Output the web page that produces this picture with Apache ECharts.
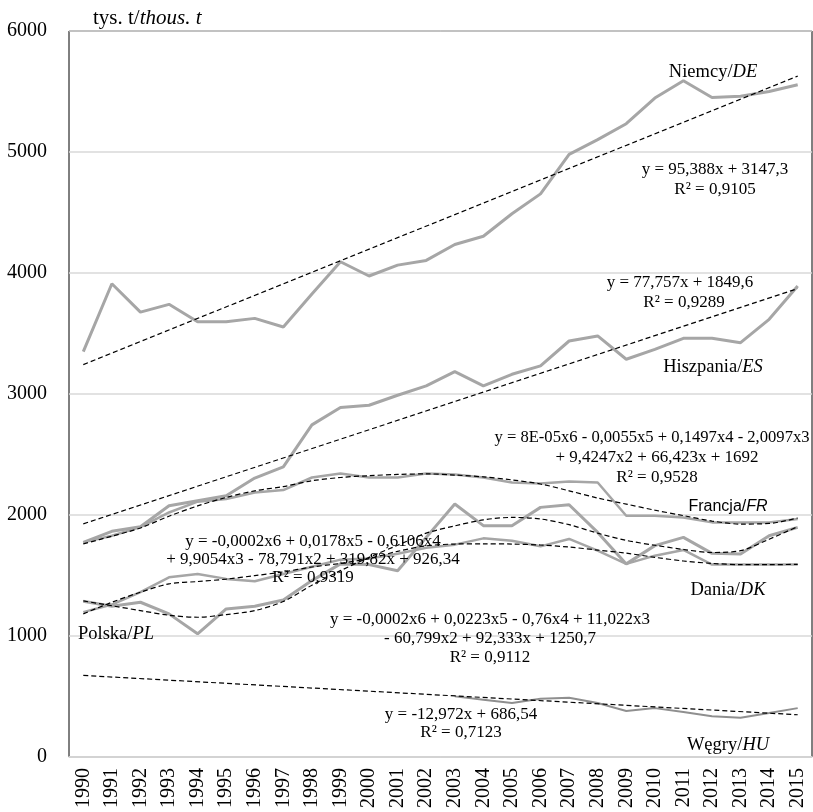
<!DOCTYPE html>
<html>
<head>
<meta charset="utf-8">
<script src="https://cdn.jsdelivr.net/npm/echarts@6/dist/echarts.min.js"></script>
<style>
  html, body { margin: 0; padding: 0; background: #fff; }
  #main { width: 813px; height: 812px; }
</style>
</head>
<body>
<div id="main"></div>
<script>
const lata = ['1990','1991','1992','1993','1994','1995','1996','1997','1998','1999','2000','2001','2002',
  '2003','2004','2005','2006','2007','2008','2009','2010','2011','2012','2013','2014','2015'];

const niemcy = [3350,3911,3677,3741,3597,3597,3625,3554,3826,4093,3975,4065,4104,4236,4304,4490,4654,4980,5102,5234,5446,5589,5450,5460,5500,5556];
const hiszpania = [1774,1865,1903,2077,2118,2159,2305,2398,2745,2888,2907,2990,3067,3185,3067,3163,3232,3438,3480,3287,3369,3460,3460,3424,3617,3892];
const francja = [1774,1829,1900,2021,2110,2132,2186,2206,2310,2343,2310,2310,2343,2335,2310,2269,2260,2277,2269,1994,1994,1980,1939,1939,1939,1967];
const polska = [1287,1246,1279,1183,1018,1224,1246,1298,1458,1596,1590,1540,1815,2091,1912,1912,2063,2085,1856,1596,1747,1815,1683,1678,1829,1898];
const dania = [1197,1260,1362,1485,1513,1472,1452,1513,1573,1631,1640,1680,1730,1755,1807,1788,1741,1802,1705,1596,1664,1711,1590,1590,1590,1590];
const wegry = [null,null,null,null,null,null,null,null,null,null,null,null,null,501,474,446,482,490,446,380,404,371,336,325,363,404];

// linie trendu
const trendDE = [['1990', 3243], ['2015', 5627]];
const trendES = [['1990', 1927], ['2015', 3871]];
const trendHU = [['1990', 674], ['2015', 349]];
const trendFR = [1761,1825,1893,1990,2075,2145,2200,2235,2283,2310,2325,2335,2340,2330,2315,2290,2256,2200,2140,2090,2040,1995,1950,1925,1930,1975];
const trendDK = [1183,1279,1362,1431,1450,1470,1499,1530,1570,1600,1640,1700,1745,1760,1762,1760,1752,1735,1710,1685,1650,1620,1600,1590,1590,1592];
const trendPL = [1290,1250,1210,1172,1155,1177,1210,1285,1420,1540,1650,1750,1850,1910,1960,1980,1967,1920,1850,1790,1750,1715,1690,1705,1800,1904];

const serif = 'Liberation Serif, Times New Roman, serif';
const szary = '#a6a6a6';

function linia(name, data, w, kolor) {
  return { name, type: 'line', data, symbol: 'none', z: 2,
    lineStyle: { color: kolor || szary, width: w }, emphasis: { disabled: true } };
}
function trend(name, data, smooth) {
  return { name, type: 'line', data, symbol: 'none', z: 3, smooth: smooth ? 0.3 : false, connectNulls: true,
    lineStyle: { color: '#000', width: 1.2, type: [5, 3] }, emphasis: { disabled: true } };
}
function napis(x, y, tekst, size, rich) {
  return { type: 'text', x, y, z: 10, style: {
    text: tekst, fill: '#000', font: size + 'px ' + serif, align: 'center', verticalAlign: 'middle',
    rich: rich || {} } };
}
const kursywa = s => ({ a: { font: s + 'px ' + serif, fill: '#000' }, b: { font: 'italic ' + s + 'px ' + serif, fill: '#000' } });

const chart = echarts.init(document.getElementById('main'));
chart.setOption({
  animation: false,
  backgroundColor: '#fff',
  grid: { left: 69, right: 1, top: 31, bottom: 55, show: true, borderColor: '#000', borderWidth: 1 },
  xAxis: {
    type: 'category', data: lata, boundaryGap: true,
    axisTick: { show: false },
    axisLine: { lineStyle: { color: '#d9d9d9', width: 1.5 } },
    axisLabel: { rotate: 90, margin: 11, color: '#000', fontFamily: serif, fontSize: 20 }
  },
  yAxis: {
    type: 'value', min: 0, max: 6000, interval: 1000,
    axisLine: { show: false }, axisTick: { show: false },
    splitLine: { lineStyle: { color: '#d9d9d9', width: 1.5 } },
    axisLabel: { margin: 22, color: '#000', fontFamily: serif, fontSize: 20, formatter: v => String(v) }
  },
  series: [
    linia('Niemcy', niemcy, 3),
    linia('Hiszpania', hiszpania, 3),
    linia('Francja', francja, 2.5),
    linia('Polska', polska, 3),
    linia('Dania', dania, 2.5),
    linia('Węgry', wegry, 2, '#8f8f8f'),
    trend('trend DE', trendDE),
    trend('trend ES', trendES),
    trend('trend HU', trendHU),
    trend('trend FR', trendFR, true),
    trend('trend DK', trendDK, true),
    trend('trend PL', trendPL, true)
  ],
  graphic: [
    { type: 'text', x: 93, y: 18, z: 10, style: { text: '{a|tys. t/}{b|thous. t}', verticalAlign: 'middle', rich: kursywa(21) } },
    napis(713, 72, '{a|Niemcy/}{b|DE}', 18.5, kursywa(18.5)),
    napis(715, 170, 'y = 95,388x + 3147,3', 17),
    napis(715, 190, 'R² = 0,9105', 17),
    napis(680, 283, 'y = 77,757x + 1849,6', 17),
    napis(684, 303, 'R² = 0,9289', 17),
    napis(713, 367, '{a|Hiszpania/}{b|ES}', 18.5, kursywa(18.5)),
    napis(652, 438, 'y = 8E-05x6 - 0,0055x5 + 0,1497x4 - 2,0097x3', 16.6),
    napis(657, 458, '+ 9,4247x2 + 66,423x + 1692', 17),
    napis(657, 478, 'R² = 0,9528', 17),
    { type: 'text', x: 728, y: 507, z: 10, style: {
      text: '{a|Francja/}{b|FR}', align: 'center', verticalAlign: 'middle',
      rich: { a: { font: '16px Liberation Sans, Arial, sans-serif', fill: '#000' },
              b: { font: 'italic 16px Liberation Sans, Arial, sans-serif', fill: '#000' } } } },
    napis(313, 542, 'y = -0,0002x6 + 0,0178x5 - 0,6106x4', 17),
    napis(313, 560, '+ 9,9054x3 - 78,791x2 + 319,82x + 926,34', 17),
    napis(313, 578, 'R² = 0,9319', 17),
    napis(728, 590, '{a|Dania/}{b|DK}', 18.5, kursywa(18.5)),
    napis(490, 620, 'y = -0,0002x6 + 0,0223x5 - 0,76x4 + 11,022x3', 17),
    napis(490, 639, '- 60,799x2 + 92,333x + 1250,7', 17),
    napis(490, 658, 'R² = 0,9112', 17),
    napis(116, 634, '{a|Polska/}{b|PL}', 18.5, kursywa(18.5)),
    napis(461, 715, 'y = -12,972x + 686,54', 17),
    napis(461, 733, 'R² = 0,7123', 17),
    napis(728, 745, '{a|Węgry/}{b|HU}', 18.5, kursywa(18.5))
  ]
});
</script>
</body>
</html>
